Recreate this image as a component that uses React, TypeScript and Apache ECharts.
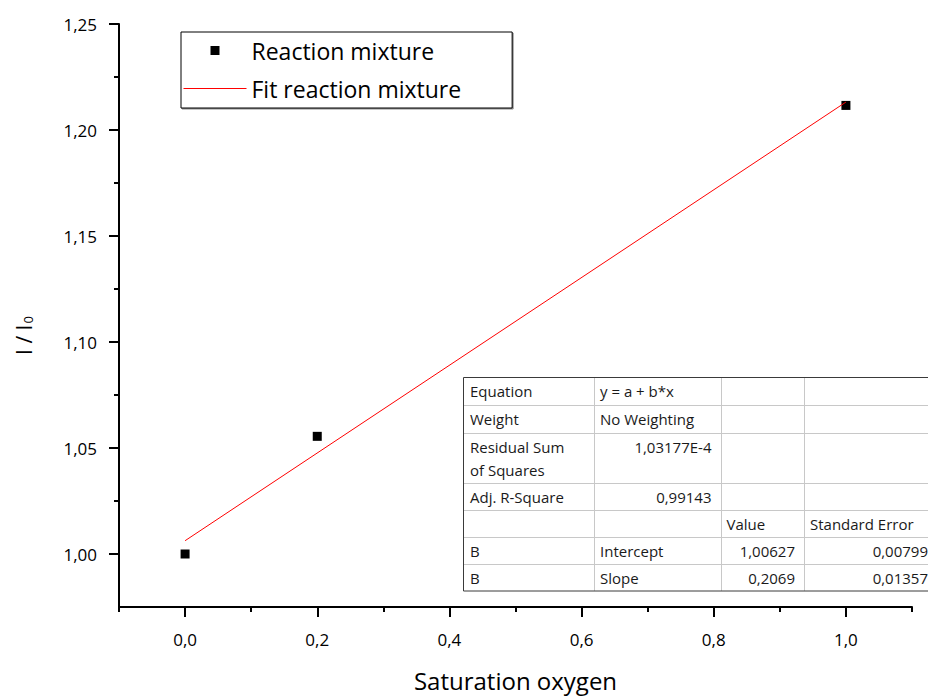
import React, { useEffect, useRef } from 'react';
import * as echarts from 'echarts';

// ---- data ----
const sampleX = [0, 0.2, 1.0];
const sampleY = [1.0, 1.0555, 1.2116];
const fitX = [0, 1.0];
const fitY = [1.00627, 1.21317];

const xMajorTicks = [0, 0.2, 0.4, 0.6, 0.8, 1.0];
const xMinorTicks = [-0.1, 0.1, 0.3, 0.5, 0.7, 0.9, 1.1];
const yMajorTicks = [1.0, 1.05, 1.1, 1.15, 1.2, 1.25];
const yMinorTicks = [1.025, 1.075, 1.125, 1.175, 1.225];

const seriesNames = ['Reaction mixture', 'Fit reaction mixture'];
const xAxisTitle = 'Saturation oxygen';

const tableRows: string[][] = [
  ['Equation', 'y = a + b*x', '', ''],
  ['Weight', 'No Weighting', '', ''],
  ['Residual Sum\nof Squares', '1,03177E-4', '', ''],
  ['Adj. R-Square', '0,99143', '', ''],
  ['', '', 'Value', 'Standard Error'],
  ['B', 'Intercept', '1,00627', '0,00799'],
  ['B', 'Slope', '0,2069', '0,01357'],
];

const FONT = '"Open Sans", "Liberation Sans", sans-serif';

function buildTable() {
  const ox = 463;
  const oy = 377;
  const colX = [0, 131, 257.5, 341, 474];
  const rowY = [0, 28, 55.5, 106, 132.5, 160, 187, 214];
  const W = colX[colX.length - 1];
  const H = rowY[rowY.length - 1];
  const children: any[] = [];
  children.push({ type: 'rect', shape: { x: 0, y: 0, width: W, height: H }, style: { fill: '#ffffff' } });
  for (let i = 1; i < rowY.length - 1; i++) {
    const y = Math.round(rowY[i]) + 0.5;
    children.push({ type: 'line', shape: { x1: 0, y1: y, x2: W, y2: y }, style: { stroke: '#c8c8c8', lineWidth: 1 } });
  }
  for (let i = 1; i < colX.length - 1; i++) {
    const x = Math.round(colX[i]) + 0.5;
    children.push({ type: 'line', shape: { x1: x, y1: 0, x2: x, y2: H }, style: { stroke: '#c8c8c8', lineWidth: 1 } });
  }
  children.push({ type: 'rect', shape: { x: 0.5, y: 0.5, width: W, height: H - 0.5 }, style: { fill: 'none', stroke: '#3a3a3a', lineWidth: 1 } });
  tableRows.forEach((row, r) => {
    row.forEach((txt, c) => {
      if (!txt) return;
      const isNum = /^[0-9]/.test(txt);
      const x = isNum ? colX[c + 1] - 9 : colX[c] + (c === 0 ? 7 : 6);
      children.push({
        type: 'text',
        style: {
          text: txt,
          x,
          y: Math.round(rowY[r]) + 2.5,
          fill: '#1a1a1a',
          fontSize: 15,
          fontFamily: FONT,
          lineHeight: 23,
          align: isNum ? 'right' : 'left',
          verticalAlign: 'top',
        },
      });
    });
  });
  return { type: 'group', x: ox, y: oy, children, z: 100 };
}

const comma = (v: number, d: number) => v.toFixed(d).replace('.', ',');

export default function App() {
  const ref = useRef<HTMLDivElement>(null);
  useEffect(() => {
    if (!ref.current) return;
    const chart = echarts.init(ref.current, null, { renderer: 'svg' });
    const axisLineStyle = { color: '#000', width: 2 };
    const option: any = {
      animation: false,
      backgroundColor: '#ffffff',
      textStyle: { fontFamily: FONT },
      grid: { left: 119, right: 16, top: 24, bottom: 89, outerBoundsMode: 'none' },
      xAxis: [
        {
          type: 'value',
          min: -0.1,
          max: 1.1,
          interval: 0.1,
          position: 'bottom',
          name: xAxisTitle,
          nameLocation: 'middle',
          nameGap: 61,
          nameTextStyle: { fontSize: 24, color: '#000', fontFamily: FONT },
          axisLine: { show: true, onZero: false, lineStyle: axisLineStyle },
          axisTick: { show: true, customValues: xMajorTicks, length: 10, lineStyle: { color: '#000', width: 2 } },
          axisLabel: {
            customValues: xMajorTicks,
            formatter: (v: number) => comma(v, 1),
            fontSize: 17,
            color: '#000',
            margin: 24,
            fontFamily: FONT,
          },
          splitLine: { show: false },
        },
        {
          type: 'value',
          min: -0.1,
          max: 1.1,
          interval: 0.1,
          position: 'bottom',
          axisLine: { show: false, onZero: false },
          axisTick: { show: true, customValues: xMinorTicks, length: 5, lineStyle: { color: '#000', width: 2 } },
          axisLabel: { show: false },
          splitLine: { show: false },
        },
      ],
      yAxis: [
        {
          type: 'value',
          min: 0.975,
          max: 1.25,
          interval: 0.025,
          position: 'left',
          name: '{a|I / I}{b|0}',
          nameLocation: 'middle',
          nameRotate: 90,
          nameGap: 85,
          nameTextStyle: {
            padding: [0, 40, 0, 0],
            rich: {
              a: { fontSize: 21, lineHeight: 21, verticalAlign: 'top', color: '#000', fontFamily: FONT },
              b: { fontSize: 13, lineHeight: 13, padding: [16, 0, 0, 1], verticalAlign: 'bottom', color: '#000', fontFamily: FONT },
            },
          },
          axisLine: { show: true, onZero: false, lineStyle: axisLineStyle },
          axisTick: { show: true, customValues: yMajorTicks, length: 10, lineStyle: { color: '#000', width: 2 } },
          axisLabel: {
            customValues: yMajorTicks,
            formatter: (v: number) => comma(v, 2),
            fontSize: 17,
            color: '#000',
            margin: 22,
            fontFamily: FONT,
          },
          splitLine: { show: false },
        },
        {
          type: 'value',
          min: 0.975,
          max: 1.25,
          interval: 0.025,
          position: 'left',
          axisLine: { show: false, onZero: false },
          axisTick: { show: true, customValues: yMinorTicks, length: 5, lineStyle: { color: '#000', width: 2 } },
          axisLabel: { show: false },
          splitLine: { show: false },
        },
      ],
      legend: {
        orient: 'vertical',
        left: 181,
        top: 32,
        padding: [7, 51, 8, 2],
        itemGap: 15,
        itemWidth: 63,
        itemHeight: 9,
        borderColor: '#000',
        borderWidth: 1,
        backgroundColor: '#fff',
        shadowColor: 'rgba(0,0,0,0.45)',
        shadowOffsetX: 1,
        shadowOffsetY: 1,
        shadowBlur: 0,
        textStyle: { fontSize: 23, color: '#000', fontFamily: FONT },
        data: [
          { name: seriesNames[0], icon: 'path://M0 0H10V10H0Z' },
          {
            name: seriesNames[1],
            itemStyle: { opacity: 0 },
            lineStyle: { color: '#ff0000', width: 1, opacity: 1 },
          },
        ],
      },
      series: [
        {
          name: seriesNames[0],
          type: 'scatter',
          xAxisIndex: 0,
          yAxisIndex: 0,
          symbol: 'rect',
          symbolSize: 9,
          itemStyle: { color: '#000', opacity: 1 },
          data: sampleX.map((x, i) => [x, sampleY[i]]),
          z: 2,
        },
        {
          name: seriesNames[1],
          type: 'line',
          xAxisIndex: 0,
          yAxisIndex: 0,
          symbol: 'none',
          showSymbol: false,
          itemStyle: { color: '#ff0000' },
          lineStyle: { color: '#ff0000', width: 1 },
          data: fitX.map((x, i) => [x, fitY[i]]),
          z: 3,
        },
      ],
      graphic: [buildTable()],
    };
    chart.setOption(option);
    return () => chart.dispose();
  }, []);
  return (
    <div
      ref={ref}
      style={{ position: 'fixed', left: 0, top: 0, width: 928, height: 696, background: '#fff' }}
    />
  );
}
